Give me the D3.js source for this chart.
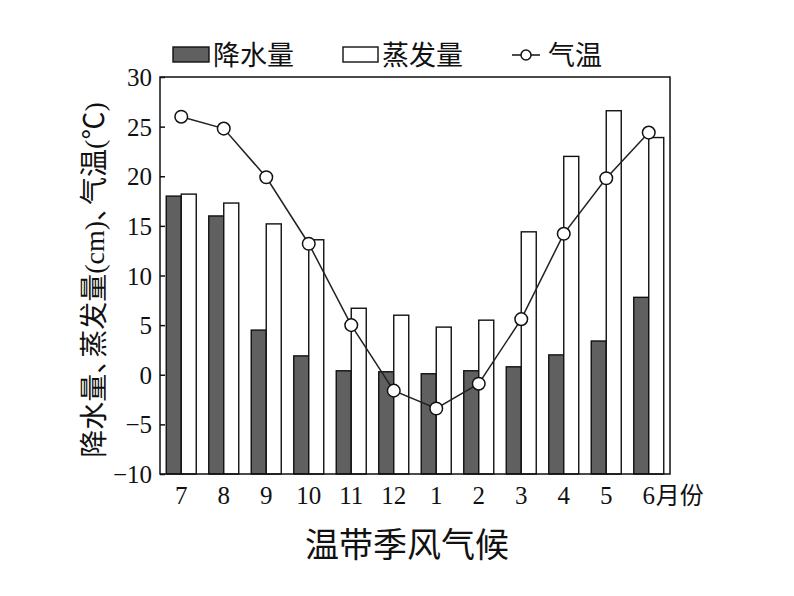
<!DOCTYPE html>
<html><head><meta charset="utf-8">
<script src="https://cdn.jsdelivr.net/npm/d3@7"></script>
<style>
html,body{margin:0;padding:0;background:#fff;}
svg{display:block;}
</style></head>
<body>
<svg id="c" width="794" height="596"></svg>
<script>
const months = ["7","8","9","10","11","12","1","2","3","4","5","6"];
const precipitation = [18.0, 16.0, 4.5, 1.9, 0.4, 0.3, 0.1, 0.4, 0.8, 2.0, 3.4, 7.8];
const evaporation = [18.2, 17.3, 15.2, 13.6, 6.7, 6.0, 4.8, 5.5, 14.4, 22.0, 26.6, 23.9];
const temperature = [26.0, 24.8, 19.9, 13.2, 5.0, -1.6, -3.4, -0.9, 5.6, 14.2, 19.8, 24.4];
const yTicks = [30, 25, 20, 15, 10, 5, 0, -5, -10];
const legendLabels = ["降水量", "蒸发量", "气温"];
const title = "温带季风气候";

const svg = d3.select("#c");
const L = 160, R = 670, T = 77, B = 474;
const serif = "'Liberation Serif','Times New Roman',serif";
const cjk = "'Noto Sans CJK SC','Noto Sans',sans-serif";

const x = d3.scaleBand().domain(months).range([L, R]);
const sub = d3.scaleBand().domain(["p","e"]).range([0, x.bandwidth()]).paddingInner(0).paddingOuter(0.4167);
const y = d3.scaleLinear().domain([-10, 30]).range([B, T]);

// bars
const g = svg.append("g");
g.selectAll("rect.p").data(precipitation).join("rect").attr("class","p")
  .attr("x",(d,i)=>x(months[i])+sub("p")).attr("width",sub.bandwidth())
  .attr("y",d=>y(d)).attr("height",d=>y(-10)-y(d))
  .attr("fill","#606060").attr("stroke","#111").attr("stroke-width",1.4);
g.selectAll("rect.e").data(evaporation).join("rect").attr("class","e")
  .attr("x",(d,i)=>x(months[i])+sub("e")).attr("width",sub.bandwidth())
  .attr("y",d=>y(d)).attr("height",d=>y(-10)-y(d))
  .attr("fill","#fff").attr("stroke","#111").attr("stroke-width",1.4);

// frame
svg.append("rect").attr("x",L).attr("y",T).attr("width",R-L).attr("height",B-T)
  .attr("fill","none").attr("stroke","#111").attr("stroke-width",1.5);

// y axis
const yAxis = d3.axisLeft(y).tickValues(yTicks).tickSizeInner(-5).tickSizeOuter(0).tickPadding(8)
  .tickFormat(d => d < 0 ? "\u2212" + Math.abs(d) : d);
const ya = svg.append("g").attr("transform",`translate(${L},0)`).call(yAxis);
ya.select(".domain").remove();
ya.selectAll("line").attr("stroke","#111").attr("stroke-width",1.5);
ya.selectAll("text").attr("font-family",serif).attr("font-size",25).attr("fill","#111").attr("dy","0.34em");

// x axis
const xAxis = d3.axisBottom(x).tickSize(0).tickPadding(12);
const xa = svg.append("g").attr("transform",`translate(0,${B})`).call(xAxis);
xa.select(".domain").remove();
xa.selectAll("text").attr("font-family",serif).attr("font-size",25).attr("fill","#111");
svg.append("text").attr("x", x("6") + x.bandwidth()/2 + 7).attr("y", B + 30)
  .attr("font-family",cjk).attr("font-size",24).attr("fill","#111").text("月份");

// temperature line
const cx = (d,i)=>x(months[i]) + x.bandwidth()/2;
const line = d3.line().x(cx).y(d=>y(d));
svg.append("path").datum(temperature).attr("d",line).attr("fill","none").attr("stroke","#222").attr("stroke-width",1.5);
svg.selectAll("circle.t").data(temperature).join("circle").attr("class","t")
  .attr("cx",cx).attr("cy",d=>y(d)).attr("r",6.3)
  .attr("fill","#fff").attr("stroke","#111").attr("stroke-width",1.5);

// legend
const lg = svg.append("g");
lg.append("rect").attr("x",173).attr("y",47).attr("width",36).attr("height",15).attr("fill","#606060").attr("stroke","#111").attr("stroke-width",1.4);
lg.append("text").attr("x",213).attr("y",65).attr("font-family",cjk).attr("font-size",27).attr("fill","#111").text(legendLabels[0]);
lg.append("rect").attr("x",343).attr("y",47).attr("width",35).attr("height",15).attr("fill","#fff").attr("stroke","#111").attr("stroke-width",1.4);
lg.append("text").attr("x",382).attr("y",65).attr("font-family",cjk).attr("font-size",27).attr("fill","#111").text(legendLabels[1]);
lg.append("line").attr("x1",512).attr("x2",540).attr("y1",55).attr("y2",55).attr("stroke","#111").attr("stroke-width",1.5);
lg.append("circle").attr("cx",526).attr("cy",55).attr("r",5).attr("fill","#fff").attr("stroke","#111").attr("stroke-width",1.5);
lg.append("text").attr("x",548).attr("y",65).attr("font-family",cjk).attr("font-size",27).attr("fill","#111").text(legendLabels[2]);

// y label
const yl = svg.append("text").attr("transform","translate(104,280) rotate(-90)")
  .attr("text-anchor","middle").attr("font-size",28).attr("fill","#111").attr("font-family",cjk);
yl.append("tspan").text("降水量、");
yl.append("tspan").attr("dx",-12).text("蒸发量");
yl.append("tspan").attr("font-family",serif).text("(cm)");
yl.append("tspan").text("、");
yl.append("tspan").attr("dx",-12).text("气温");
yl.append("tspan").attr("font-family",serif).text("(");
yl.append("tspan").text("℃");
yl.append("tspan").attr("font-family",serif).text(")");

// title
svg.append("text").attr("x",407).attr("y",557).attr("text-anchor","middle")
  .attr("font-family",cjk).attr("font-size",34).attr("fill","#111").text(title);
</script>
</body></html>
